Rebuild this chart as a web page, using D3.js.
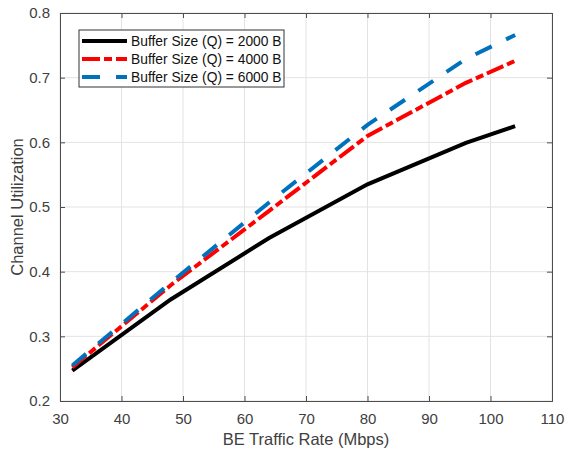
<!DOCTYPE html>
<html>
<head>
<meta charset="utf-8">
<script src="https://cdn.jsdelivr.net/npm/d3@7"></script>
<style>
  body { margin: 0; background: #fff; }
  text { font-family: Arial, "Liberation Sans", sans-serif; }
</style>
</head>
<body>
<div id="chart"></div>
<script>
// data
var rates = [32, 48, 64, 80, 96, 104];
var util_2000 = [0.247, 0.357, 0.452, 0.535, 0.599, 0.625];
var util_4000 = [0.252, 0.379, 0.494, 0.610, 0.692, 0.726];
var util_6000 = [0.255, 0.383, 0.507, 0.627, 0.729, 0.766];
var seriesNames = ["Buffer Size (Q) = 2000 B", "Buffer Size (Q) = 4000 B", "Buffer Size (Q) = 6000 B"];
var xTicks = [30, 40, 50, 60, 70, 80, 90, 100, 110];
var yTicks = [0.2, 0.3, 0.4, 0.5, 0.6, 0.7, 0.8];

var W = 568, H = 452;
var m = {left: 60, right: 16, top: 13, bottom: 51};
var pw = W - m.left - m.right, ph = H - m.top - m.bottom;

var series = [
  {name: seriesNames[0], vals: util_2000, color: "#000000", dash: null},
  {name: seriesNames[1], vals: util_4000, color: "#ff0000", dash: "18,4,8,4"},
  {name: seriesNames[2], vals: util_6000, color: "#0072bd", dash: "18,16"}
];

var svg = d3.select("#chart").append("svg")
  .attr("width", W).attr("height", H);

var x = d3.scaleLinear().domain([30, 110]).range([0, pw]);
var y = d3.scaleLinear().domain([0.2, 0.8]).range([ph, 0]);

var g = svg.append("g").attr("transform", "translate(" + m.left + "," + m.top + ")");

// grid
g.selectAll(".vgrid").data(xTicks).enter().append("line")
  .attr("x1", d => x(d)).attr("x2", d => x(d)).attr("y1", 0).attr("y2", ph)
  .attr("stroke", "#e3e3e3").attr("stroke-width", 1);
g.selectAll(".hgrid").data(yTicks).enter().append("line")
  .attr("y1", d => y(d)).attr("y2", d => y(d)).attr("x1", 0).attr("x2", pw)
  .attr("stroke", "#e3e3e3").attr("stroke-width", 1);

// axes (ticks inward)
var axCol = "#4d4d4d";
var xAx = g.append("g").attr("transform", "translate(0," + ph + ")")
  .call(d3.axisBottom(x).tickValues(xTicks).tickSize(-5).tickPadding(12).tickFormat(d3.format("d")));
var xTop = g.append("g")
  .call(d3.axisTop(x).tickValues(xTicks).tickSize(-5).tickFormat(""));
var yAx = g.append("g")
  .call(d3.axisLeft(y).tickValues(yTicks).tickSize(-5).tickPadding(10).tickFormat(d3.format(".1f")));
var yRight = g.append("g").attr("transform", "translate(" + pw + ",0)")
  .call(d3.axisRight(y).tickValues(yTicks).tickSize(-5).tickFormat(""));

[xAx, xTop, yAx, yRight].forEach(function(a) {
  a.select(".domain").attr("stroke", axCol).attr("stroke-width", 1);
  a.selectAll(".tick line").attr("stroke", axCol);
  a.selectAll("text").attr("fill", "#404040").style("font-size", "15px")
    .style("font-family", "Arial, 'Liberation Sans', sans-serif");
});

// lines
var line = d3.line().x((d, i) => x(rates[i])).y(d => y(d));
g.selectAll(".series").data(series).enter().append("path")
  .attr("d", d => line(d.vals))
  .attr("fill", "none")
  .attr("stroke", d => d.color)
  .attr("stroke-width", 4)
  .attr("stroke-dasharray", d => d.dash);

// axis labels
svg.append("text").attr("x", m.left + pw / 2).attr("y", 445)
  .attr("text-anchor", "middle").attr("fill", "#404040").style("font-size", "16.5px")
  .text("BE Traffic Rate (Mbps)");
svg.append("text").attr("transform", "translate(23," + (m.top + ph / 2) + ") rotate(-90)")
  .attr("text-anchor", "middle").attr("fill", "#404040").style("font-size", "16.5px")
  .text("Channel Utilization");

// legend
var lg = svg.append("g").attr("transform", "translate(79,30)");
lg.append("rect").attr("width", 205).attr("height", 57)
  .attr("fill", "#fff").attr("stroke", "#333").attr("stroke-width", 1);
var items = lg.selectAll(".item").data(series).enter().append("g")
  .attr("transform", (d, i) => "translate(0," + (11 + i * 18) + ")");
items.append("line").attr("x1", 3).attr("x2", 48).attr("y1", 0).attr("y2", 0)
  .attr("stroke", d => d.color).attr("stroke-width", 4)
  .attr("stroke-dasharray", d => d.dash);
items.append("text").attr("x", 52).attr("y", 5)
  .attr("fill", "#111").style("font-size", "13.8px")
  .text(d => d.name);
</script>
</body>
</html>
